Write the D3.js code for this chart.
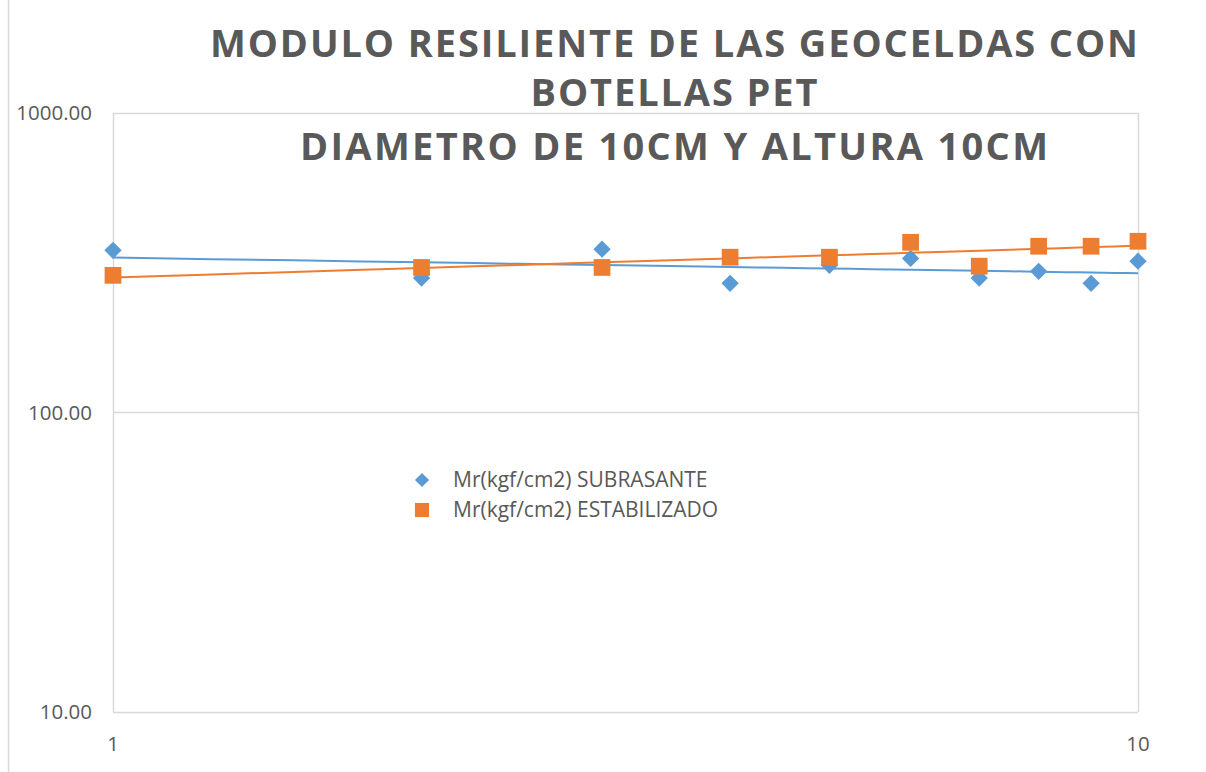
<!DOCTYPE html>
<html>
<head>
<meta charset="utf-8">
<script src="https://cdn.jsdelivr.net/npm/d3@7"></script>
<style>
  body { margin: 0; background: #fff; }
  svg { display: block; }
</style>
</head>
<body>
<svg width="1206" height="772"></svg>
<script>
// data
var xValues = [1, 2, 3, 4, 5, 6, 7, 8, 9, 10]
var subrasante = [348, 281, 351, 270, 310, 327, 281, 296, 270, 320]
var estabilizado = [287, 305, 305, 330, 330, 370, 308, 359, 359, 373]
var seriesNames = ['Mr(kgf/cm2) SUBRASANTE', 'Mr(kgf/cm2) ESTABILIZADO']
var yTicks = [10, 100, 1000]
var xTicks = [1, 10]
var titleLines = ['MODULO RESILIENTE DE LAS GEOCELDAS CON', 'BOTELLAS PET', 'DIAMETRO DE 10CM Y ALTURA 10CM']

var blue = '#5b9bd5', orange = '#ed7d31', textColor = '#595959', gridColor = '#d9d9d9'

var svg = d3.select('svg')
var plotLeft = 113, plotRight = 1138, plotTop = 113, plotBottom = 712

var x = d3.scaleLog().domain([1, 10]).range([plotLeft, plotRight])
var y = d3.scaleLog().domain([10, 1000]).range([plotBottom, plotTop])

// outer chart border (left edge)
svg.append('line')
    .attr('x1', 8.5).attr('x2', 8.5).attr('y1', 0).attr('y2', 772)
    .attr('stroke', gridColor).attr('stroke-width', 1.5)

// gridlines
svg.selectAll('.grid')
    .data(yTicks)
    .enter()
    .append('line')
    .attr('x1', plotLeft).attr('x2', plotRight)
    .attr('y1', function(d) { return Math.round(y(d)) + 0.5 })
    .attr('y2', function(d) { return Math.round(y(d)) + 0.5 })
    .attr('stroke', gridColor).attr('stroke-width', 1.5)

// plot border
svg.append('line')
    .attr('x1', plotLeft + 0.5).attr('x2', plotLeft + 0.5).attr('y1', plotTop).attr('y2', plotBottom)
    .attr('stroke', gridColor).attr('stroke-width', 1.5)
svg.append('line')
    .attr('x1', plotRight + 0.5).attr('x2', plotRight + 0.5).attr('y1', plotTop).attr('y2', plotBottom)
    .attr('stroke', gridColor).attr('stroke-width', 1.5)

// tick labels
svg.selectAll('.ylab')
    .data(yTicks)
    .enter()
    .append('text')
    .attr('x', 92)
    .attr('y', function(d) { return y(d) + 7 })
    .attr('text-anchor', 'end')
    .style('font', '20.5px "Open Sans"')
    .style('fill', textColor)
    .text(function(d) { return d.toFixed(2) })

svg.selectAll('.xlab')
    .data(xTicks)
    .enter()
    .append('text')
    .attr('x', function(d) { return x(d) })
    .attr('y', 751)
    .attr('text-anchor', 'middle')
    .style('font', '20.5px "Open Sans"')
    .style('fill', textColor)
    .text(function(d) { return d })

// power trendlines (least squares in log space)
function powerFit(xs, ys) {
    var lx = xs.map(Math.log), ly = ys.map(Math.log)
    var mx = d3.mean(lx), my = d3.mean(ly)
    var b = d3.sum(lx, function(v, i) { return (v - mx) * (ly[i] - my) }) / d3.sum(lx, function(v) { return (v - mx) * (v - mx) })
    var a = Math.exp(my - b * mx)
    return function(v) { return a * Math.pow(v, b) }
}

var series = [
    { name: seriesNames[0], values: subrasante, color: blue, rot: 45, size: 150 },
    { name: seriesNames[1], values: estabilizado, color: orange, rot: 0, size: 280 }
]

series.forEach(function(s) {
    var f = powerFit(xValues, s.values)
    var pts = d3.range(1, 10.01, 0.25)
    svg.append('path')
        .datum(pts)
        .attr('d', d3.line().x(function(d) { return x(d) }).y(function(d) { return y(f(d)) }))
        .attr('fill', 'none')
        .attr('stroke', s.color)
        .attr('stroke-width', 2)
})

// markers
series.forEach(function(s) {
    svg.selectAll(null)
        .data(s.values)
        .enter()
        .append('path')
        .attr('d', d3.symbol().type(d3.symbolSquare).size(s.size))
        .attr('transform', function(d, i) { return 'translate(' + x(xValues[i]) + ',' + y(d) + ') rotate(' + s.rot + ')' })
        .attr('fill', s.color)
})

// legend
var legend = svg.selectAll('.legend')
    .data(series)
    .enter()
    .append('g')
    .attr('transform', function(d, i) { return 'translate(422,' + (480 + i * 30) + ')' })

legend.append('path')
    .attr('d', function(d) { return d3.symbol().type(d3.symbolSquare).size(d.rot ? 100 : 200)() })
    .attr('transform', function(d) { return 'rotate(' + d.rot + ')' })
    .attr('fill', function(d) { return d.color })

legend.append('text')
    .attr('x', 31)
    .attr('y', 7)
    .style('font', '21px "Open Sans"')
    .style('fill', textColor)
    .text(function(d) { return d.name })

// title
var titleY = [57, 106, 160]
var titleW = [928, 287, 748]
svg.selectAll('.title')
    .data(titleLines)
    .enter()
    .append('text')
    .attr('x', 674)
    .attr('y', function(d, i) { return titleY[i] })
    .attr('text-anchor', 'middle')
    .attr('textLength', function(d, i) { return titleW[i] })
    .attr('lengthAdjust', 'spacing')
    .style('font', 'bold 38px "Open Sans"')
    .style('fill', textColor)
    .text(function(d) { return d })
</script>
</body>
</html>
